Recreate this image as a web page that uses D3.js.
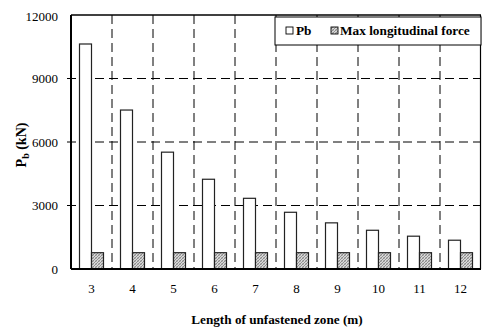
<!DOCTYPE html>
<html>
<head>
<meta charset="utf-8">
<script src="https://cdn.jsdelivr.net/npm/d3@7"></script>
<style>
  html, body { margin: 0; padding: 0; background: #fff; }
  svg { display: block; font-family: "Liberation Serif", "Times New Roman", serif; }
</style>
</head>
<body>
<svg id="chart" width="482" height="330"></svg>
<script>
// Unfastened zone length (m)
const lengths = [3, 4, 5, 6, 7, 8, 9, 10, 11, 12];
// Pb (kN) for each length
const pbValues = [10630, 7510, 5520, 4240, 3340, 2680, 2180, 1830, 1550, 1360];
// Maximum longitudinal force (kN)
const maxForce = [770, 770, 770, 770, 770, 770, 770, 770, 770, 770];
const yTicks = [0, 3000, 6000, 9000, 12000];
const seriesNames = ["Pb", "Max longitudinal force"];

const svg = d3.select("#chart");
const margin = { left: 71, right: 1, top: 15, bottom: 61 };
const W = 482, H = 330;
const x0 = margin.left, x1 = W - margin.right;
const y0 = H - margin.bottom, y1 = margin.top;

// Hatch fill for the force bars
const defs = svg.append("defs");
const pat = defs.append("pattern")
  .attr("id", "hatch").attr("patternUnits", "userSpaceOnUse")
  .attr("width", 3).attr("height", 3);
pat.append("rect").attr("width", 3).attr("height", 3).attr("fill", "#d8d8d8");
pat.append("path").attr("d", "M0,3 L3,0 M-1,1 L1,-1 M2,4 L4,2")
  .attr("stroke", "#777").attr("stroke-width", 0.8);
pat.append("path").attr("d", "M0,0 L3,3").attr("stroke", "#999").attr("stroke-width", 0.5);

const x = d3.scaleBand().domain(lengths).range([x0, x1]).paddingInner(0).paddingOuter(0);
const y = d3.scaleLinear().domain([0, 12000]).range([y0, y1]);
const barW = 12;

// Horizontal dashed grid lines with small outward ticks
const gridY = svg.append("g");
yTicks.filter(v => v > 0 && v < 12000).forEach(v => {
  gridY.append("line")
    .attr("x1", x0 - 4).attr("x2", x1)
    .attr("y1", y(v)).attr("y2", y(v))
    .attr("stroke", "#000").attr("stroke-width", 1)
    .attr("stroke-dasharray", "9,5");
});
// Vertical dashed separators between categories
const gridX = svg.append("g");
lengths.slice(1).forEach(v => {
  gridX.append("line")
    .attr("x1", x(v)).attr("x2", x(v))
    .attr("y1", y1).attr("y2", y0)
    .attr("stroke", "#000").attr("stroke-width", 1)
    .attr("stroke-dasharray", "9,5");
});

// Bars
const groups = svg.append("g").selectAll("g").data(lengths).join("g");
groups.append("rect")
  .attr("x", (d) => x(d) + x.bandwidth() / 2 - barW)
  .attr("y", (d, i) => y(pbValues[i]))
  .attr("width", barW)
  .attr("height", (d, i) => y(0) - y(pbValues[i]))
  .attr("fill", "#fff").attr("stroke", "#222").attr("stroke-width", 1.2);
groups.append("rect")
  .attr("x", (d) => x(d) + x.bandwidth() / 2)
  .attr("y", (d, i) => y(maxForce[i]))
  .attr("width", barW)
  .attr("height", (d, i) => y(0) - y(maxForce[i]))
  .attr("fill", "url(#hatch)").attr("stroke", "#222").attr("stroke-width", 1.2);

// Frame: top and right borders, heavier left and bottom axes
svg.append("line").attr("x1", x0).attr("x2", x1).attr("y1", y1).attr("y2", y1)
  .attr("stroke", "#000").attr("stroke-width", 1.5);
svg.append("line").attr("x1", x1 - 0.5).attr("x2", x1 - 0.5).attr("y1", y1).attr("y2", y0)
  .attr("stroke", "#000").attr("stroke-width", 1.2);
svg.append("line").attr("x1", x0).attr("x2", x0).attr("y1", y1).attr("y2", y0)
  .attr("stroke", "#000").attr("stroke-width", 2);
svg.append("line").attr("x1", x0).attr("x2", x1).attr("y1", y0).attr("y2", y0)
  .attr("stroke", "#000").attr("stroke-width", 2);

// Y axis labels
const yAxis = d3.axisLeft(y).tickValues(yTicks).tickSize(0).tickPadding(13).tickFormat(d3.format("d"));
const gy = svg.append("g").attr("transform", `translate(${x0},0)`).call(yAxis);
gy.select(".domain").remove();
gy.selectAll("text").attr("font-size", 13).attr("fill", "#000")
  .attr("font-family", "Liberation Serif, serif");
gy.selectAll(".tick").filter(d => d === 12000).attr("transform", `translate(0,${y(12000) + 2})`);

// X axis labels
const xAxis = d3.axisBottom(x).tickSize(0).tickPadding(15);
const gx = svg.append("g").attr("transform", `translate(0,${y0})`).call(xAxis);
gx.select(".domain").remove();
gx.selectAll("text").attr("font-size", 13).attr("fill", "#000")
  .attr("font-family", "Liberation Serif, serif");

// Axis titles
svg.append("text")
  .attr("x", 277).attr("y", 324)
  .attr("text-anchor", "middle").attr("font-size", 13.2).attr("font-weight", "bold")
  .text("Length of unfastened zone (m)");
const yt = svg.append("text")
  .attr("transform", `translate(26,${(y0 + y1) / 2 + 3}) rotate(-90)`)
  .attr("text-anchor", "middle").attr("font-size", 14).attr("font-weight", "bold");
yt.append("tspan").text("P");
yt.append("tspan").attr("font-size", 10).attr("dy", 3).text("b");
yt.append("tspan").attr("dy", -3).text(" (kN)");

// Legend
const lg = svg.append("g");
lg.append("rect").attr("x", 275).attr("y", 17).attr("width", 206).attr("height", 28)
  .attr("fill", "#fff").attr("stroke", "#000").attr("stroke-width", 1);
lg.append("rect").attr("x", 286).attr("y", 27).attr("width", 7).attr("height", 7)
  .attr("fill", "#fff").attr("stroke", "#000").attr("stroke-width", 0.9);
lg.append("text").attr("x", 296).attr("y", 35).attr("font-size", 13.3).attr("font-weight", "bold")
  .text(seriesNames[0]);
lg.append("rect").attr("x", 331).attr("y", 27).attr("width", 7).attr("height", 7)
  .attr("fill", "url(#hatch)").attr("stroke", "#000").attr("stroke-width", 0.9);
lg.append("text").attr("x", 340).attr("y", 35).attr("font-size", 13.3).attr("font-weight", "bold")
  .text(seriesNames[1]);
</script>
</body>
</html>
